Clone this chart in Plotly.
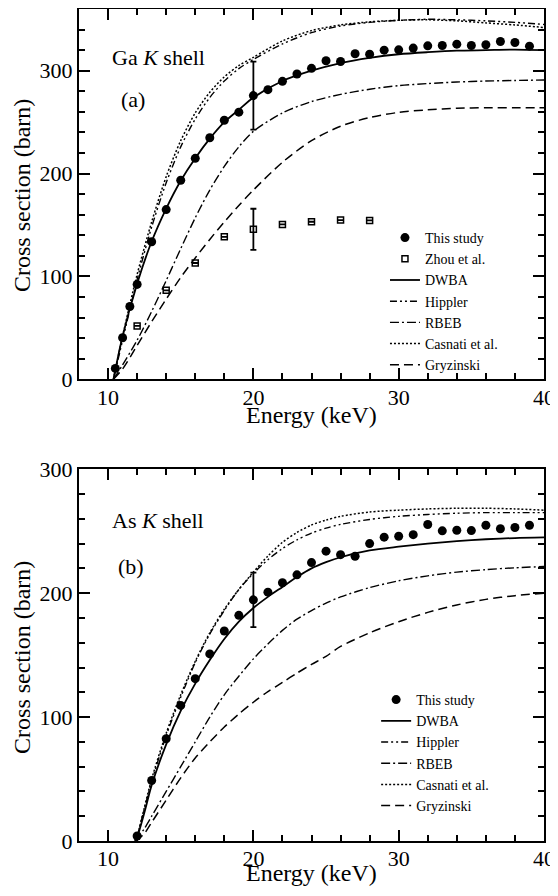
import plotly.graph_objects as go

# ---------------- data: Ga K shell (panel a) ----------------
ga_exp_x = [10.5, 11, 11.5, 12, 13, 14, 15, 16, 17, 18, 19, 20, 21, 22, 23, 24, 25, 26, 27, 28,
            29, 30, 31, 32, 33, 34, 35, 36, 37, 38, 39]
ga_exp_y = [10.6, 40.4, 70.8, 92.3, 133.7, 165, 193.5, 214.8, 234.8, 251.9, 259.7, 275.8, 281.6,
            289.7, 296.8, 302.3, 309.7, 309, 316.5, 316, 320, 320.3, 322, 324.2, 324.5, 325.8,
            324.5, 325.2, 328.4, 327.4, 323.9]
ga_exp_err = [None] * 11 + [33] + [None] * 19

zhou_x = [12, 14, 16, 18, 20, 22, 24, 26, 28]
zhou_y = [51.9, 86.5, 113.1, 138.5, 145.8, 150.6, 153.2, 154.8, 154.5]
zhou_err = [None, None, None, None, 20, None, None, None, None]

ga_E = [10.37, 11, 12, 13, 14, 15, 16, 17, 18, 19, 20, 22, 24, 26, 28, 30, 32, 34, 36, 38, 40]
ga_dwba = [0, 42, 93, 134, 166, 193, 215, 234, 250, 262, 274, 290, 300, 307.5, 312.5, 316, 318, 319.5, 320, 320.5, 320]
ga_hippler = [0, 38, 97, 148, 191, 226, 253, 274, 290, 302, 311, 326, 337, 343.5, 347, 349, 350, 349.5, 348.5, 347, 345]
ga_rbeb = [0, 14, 38, 66, 96, 127, 157, 184, 207, 226, 241, 259, 270, 277, 282, 285.5, 287.5, 289, 290, 290.5, 291]
ga_casnati = [0, 42, 102, 153, 197, 232, 259, 279, 294, 305, 313, 329, 339, 344.5, 347.5, 349, 349.5, 348.5, 346.5, 344.5, 342]
ga_gryz = [0, 10, 33, 56, 78, 99, 118, 136, 153, 169, 184, 211, 232, 246, 254.5, 259.5, 262, 263.5, 264, 264, 264]

# ---------------- data: As K shell (panel b) ----------------
as_exp_x = [12, 13, 14, 15, 16, 17, 18, 19, 20, 21, 22, 23, 24, 25, 26, 27, 28, 29, 30, 31, 32,
            33, 34, 35, 36, 37, 38, 39]
as_exp_y = [4, 48.8, 82.5, 109.4, 131, 151, 169.5, 182.1, 194.6, 200.8, 208.4, 214.8, 224.7,
            233.9, 231.1, 229.8, 240, 245.2, 245.9, 247.2, 255.4, 250.3, 250.8, 250.5, 254.8,
            252, 253, 254.8]
as_exp_err = [None] * 8 + [22] + [None] * 19

as_E = [11.87, 12, 12.5, 13, 14, 15, 16, 17, 18, 19, 20, 21, 22, 23, 24, 25, 26, 28, 30, 32, 34, 36, 38, 40]
as_dwba = [0, 3, 23, 45, 78, 105, 127, 146, 163, 177, 188, 197, 205, 213, 220, 225, 229, 234.5, 237.5, 240, 242, 243.5, 244.5, 245]
as_hippler = [0, 4, 26, 48, 85, 116, 144, 167, 186, 203, 216, 227, 236, 243, 248.5, 252.5, 255.5, 259.5, 262, 263.5, 264.5, 265, 265, 265]
as_rbeb = [0, 2, 10, 20, 40, 60, 80, 100, 118, 133, 147, 159, 170, 179, 186, 192, 197, 204.5, 210, 214, 217, 219, 220.5, 221.5]
as_casnati = [0, 4, 27, 50, 87, 118, 145, 168, 187, 203, 217, 230, 241, 249, 255, 259, 262, 265.5, 267, 268, 268.5, 268.5, 268, 267]
as_gryz = [0, 1, 6, 15, 33, 51, 67, 80, 92, 102.5, 112, 120.5, 128, 135.5, 142.5, 149, 157, 168, 177, 184.5, 190.5, 195, 198, 200]

x_range = [8, 40]
ga_y_range = [0, 360]
as_y_range = [0, 300]

FONT = "Liberation Serif"

styles = {
    "DWBA": dict(dash="solid", width=1.8),
    "Hippler": dict(dash="7px,3px,2px,3px,2px,3px", width=1.4),
    "RBEB": dict(dash="9px,3px,2px,3px", width=1.4),
    "Casnati et al.": dict(dash="2px,2px", width=1.5),
    "Gryzinski": dict(dash="9px,5px", width=1.5),
}

fig = go.Figure()

def add_panel(xa, ya, leg, exp_x, exp_y, exp_err, E, curves, zhou=None):
    fig.add_trace(go.Scatter(
        x=exp_x, y=exp_y, mode="markers", name="This study", legend=leg,
        xaxis=xa, yaxis=ya,
        marker=dict(symbol="circle", size=9, color="black"),
        error_y=dict(type="data", array=exp_err, visible=True, color="black",
                     thickness=1.8, width=3),
    ))
    if zhou is not None:
        zx, zy, ze = zhou
        fig.add_trace(go.Scatter(
            x=zx, y=zy, mode="markers", name="Zhou et al.", legend=leg,
            xaxis=xa, yaxis=ya,
            marker=dict(symbol="square-open", size=6, color="black", line=dict(width=1.5)),
            error_y=dict(type="data", array=ze, visible=True, color="black",
                         thickness=1.8, width=3),
        ))
    for name, yv in curves:
        st = styles[name]
        fig.add_trace(go.Scatter(
            x=E, y=yv, mode="lines", name=name, legend=leg,
            xaxis=xa, yaxis=ya,
            line=dict(color="black", width=st["width"], dash=st["dash"],
                      shape="spline", smoothing=0.8),
        ))

add_panel("x", "y", "legend", ga_exp_x, ga_exp_y, ga_exp_err, ga_E,
          [("DWBA", ga_dwba), ("Hippler", ga_hippler), ("RBEB", ga_rbeb),
           ("Casnati et al.", ga_casnati), ("Gryzinski", ga_gryz)],
          zhou=(zhou_x, zhou_y, zhou_err))
add_panel("x2", "y2", "legend2", as_exp_x, as_exp_y, as_exp_err, as_E,
          [("DWBA", as_dwba), ("Hippler", as_hippler), ("RBEB", as_rbeb),
           ("Casnati et al.", as_casnati), ("Gryzinski", as_gryz)])

axis_common = dict(
    showline=True, linewidth=2, linecolor="black", mirror="ticks",
    ticks="inside", ticklen=11, tickwidth=2, tickcolor="black",
    showgrid=False, zeroline=False, automargin=False,
    tickfont=dict(family=FONT, size=22, color="black"),
)
xcommon = dict(axis_common, range=x_range, tick0=0, dtick=10, ticklabelstandoff=-3,
               minor=dict(ticks="inside", ticklen=6, tickwidth=1.5, dtick=2, tick0=0, tickcolor="black"))
ycommon = dict(axis_common, tick0=0, dtick=100, ticklabelstandoff=0,
               minor=dict(ticks="inside", ticklen=6, tickwidth=1.5, dtick=20, tick0=0, tickcolor="black"))

legend_common = dict(
    font=dict(family=FONT, size=14, color="black"),
    bgcolor="rgba(0,0,0,0)", borderwidth=0, xanchor="left", yanchor="top",
    tracegroupgap=0,
)

def label(text, x, y, size=22, angle=0, xanchor="center", yanchor="middle"):
    return dict(text=text, x=x, y=y, xref="paper", yref="paper", textangle=angle,
                xanchor=xanchor, yanchor=yanchor, showarrow=False,
                font=dict(family=FONT, size=size, color="black"))

# page body has an 8px margin, so the figure is sized to fit the 558x896 window
fig.update_layout(
    width=550, height=880,
    margin=dict(l=71, r=14, t=1, b=47, autoexpand=False),
    paper_bgcolor="white", plot_bgcolor="white",
    font=dict(family=FONT, color="black"),
    xaxis=dict(xcommon, domain=[0, 1], anchor="y"),
    yaxis=dict(ycommon, domain=[0.5549, 1], anchor="x", range=ga_y_range),
    xaxis2=dict(xcommon, domain=[0, 1], anchor="y2"),
    yaxis2=dict(ycommon, domain=[0, 0.4468], anchor="x2", range=as_y_range),
    legend=dict(legend_common, x=0.658, y=0.744),
    legend2=dict(legend_common, x=0.639, y=0.1887),
    showlegend=True,
    annotations=[
        label("Ga <i>K</i> shell", 0.0667, 0.9423, xanchor="left"),
        label("(a)", 0.116, 0.8918),
        label("As <i>K</i> shell", 0.0667, 0.3858, xanchor="left"),
        label("(b)", 0.112, 0.3305),
        label("Energy (keV)", 0.5, 0.512, size=24),
        label("Energy (keV)", 0.5, -0.0565, size=24, yanchor="bottom"),
        label("Cross section (barn)", -0.1226, 0.7764, size=24, angle=-90),
        label("Cross section (barn)", -0.1226, 0.2212, size=24, angle=-90),
    ],
)

fig.write_html("out.html")
